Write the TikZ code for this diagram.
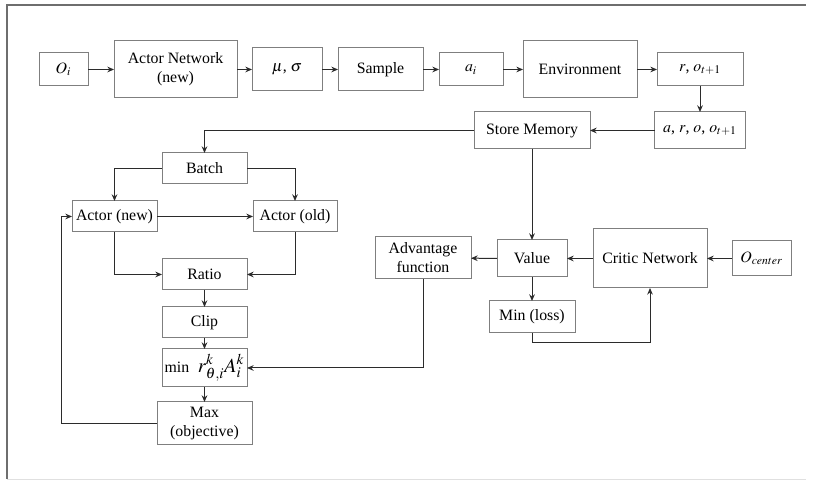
\documentclass[tikz,border=0pt]{standalone}
\usepackage{mathptmx}
\usepackage{fontspec}
\setmainfont{Liberation Serif}
\usetikzlibrary{arrows.meta, positioning}
\definecolor{boxclr}{HTML}{7F7F7F}
\definecolor{lineclr}{HTML}{2B2B2B}
\definecolor{frameclr}{HTML}{6E6E6E}

\begin{document}
\begin{tikzpicture}[
        x=0.6pt, y=-0.6pt,
        box/.style={draw=boxclr, line width=0.6pt, inner sep=0pt, outer sep=0pt, align=center,
                    font=\fontsize{9.5}{11.4}\selectfont},
        link/.style={draw=lineclr, line width=0.6pt, -{Stealth[length=4pt, width=3.4pt]}},
        frame line/.style={line width=0.9pt, frameclr},
    ]

    % Frame
    \useasboundingbox (0,0) rectangle (815,481);
    \draw[frame line] (7,479) -- (7,5) -- (806,5);
    \draw[line width=0.5pt, black!12] (7,479) -- (806,479);

    % Top row
    \node[box, minimum width=29.4pt, minimum height=19.8pt] (oi) at (63.5,69.5) {$O_i$};
    \node[box, minimum width=73.8pt, minimum height=34.2pt] (actornet) at (175.5,69.5) {Actor Network\\(new)};
    \node[box, minimum width=42pt, minimum height=25.8pt] (musig) at (287,69.5) {$\mu$, $\sigma$};
    \node[box, minimum width=51pt, minimum height=25.8pt] (sample) at (380.5,69.5) {Sample};
    \node[box, minimum width=38.4pt, minimum height=19.8pt] (ai) at (471,69.5) {$a_i$};
    \node[box, minimum width=68.4pt, minimum height=34.2pt] (env) at (580,69.5) {Environment};
    \node[box, minimum width=51.6pt, minimum height=19.8pt] (rot) at (700,69.5) {$r$, $o_{t+1}$};

    % Memory row
    \node[box, minimum width=54.6pt, minimum height=22.2pt] (aroo) at (700,130.5) {$a$, $r$, $o$, $o_{t+1}$};
    \node[box, minimum width=69.6pt, minimum height=22.2pt] (store) at (532,130.5) {Store Memory};

    % Actor update
    \node[box, minimum width=51pt, minimum height=18.6pt] (batch) at (204.5,168.5) {Batch};
    \node[box, minimum width=51pt, minimum height=18.6pt] (actnew) at (114.5,216.5) {Actor (new)};
    \node[box, minimum width=50.4pt, minimum height=18.6pt] (actold) at (295,216.5) {Actor (old)};
    \node[box, minimum width=51pt, minimum height=18.6pt] (ratio) at (204.5,274.5) {Ratio};
    \node[box, minimum width=51pt, minimum height=18.6pt] (clip) at (204.5,322.5) {Clip};
    \node[box, minimum width=51pt, minimum height=22.8pt] (minr) at (204.5,368) {min\;\;{\large$r_{\theta,i}^{k}A_{i}^{k}$}};
    \node[box, minimum width=57pt, minimum height=25.8pt] (maxobj) at (204.5,423.5) {Max\\(objective)};

    % Critic update
    \node[box, minimum width=57.6pt, minimum height=25.2pt] (adv) at (423,258) {Advantage\\function};
    \node[box, minimum width=42pt, minimum height=22.2pt] (value) at (532,258.5) {Value};
    \node[box, minimum width=68.4pt, minimum height=35.4pt] (critic) at (650,258.5) {Critic Network};
    \node[box, minimum width=35.4pt, minimum height=21pt] (ocenter) at (761.5,258.5) {$O_{center}$};
    \node[box, minimum width=51.6pt, minimum height=19.2pt] (minloss) at (532,317) {Min (loss)};

    \coordinate (back) at (61,423.5);
    \coordinate (lossturn) at (532,343);

    % Connectors
    \draw[link] (oi) -- (actornet);
    \draw[link] (actornet) -- (musig);
    \draw[link] (musig) -- (sample);
    \draw[link] (sample) -- (ai);
    \draw[link] (ai) -- (env);
    \draw[link] (env) -- (rot);
    \draw[link] (rot) -- (aroo);
    \draw[link] (aroo) -- (store);
    \draw[link] (store.west) -| (batch.north);
    \draw[link] (batch.west) -| (actnew.north);
    \draw[link] (batch.east) -| (actold.north);
    \draw[link] (actnew) -- (actold);
    \draw[link] (actnew.south) |- (ratio.west);
    \draw[link] (actold.south) |- (ratio.east);
    \draw[link] (ratio) -- (clip);
    \draw[link] (clip) -- (minr);
    \draw[link] (minr) -- (maxobj);
    \draw[link] (maxobj.west) -- (back) |- (actnew.west);

    \draw[link] (store) -- (value);
    \draw[link] (ocenter) -- (critic);
    \draw[link] (critic) -- (value);
    \draw[link] (value) -- (adv);
    \draw[link] (value) -- (minloss);
    \draw[link] (minloss.south) -- (lossturn) -| (critic.south);
    \draw[link] (adv.south) |- (minr.east);

\end{tikzpicture}
\end{document}
